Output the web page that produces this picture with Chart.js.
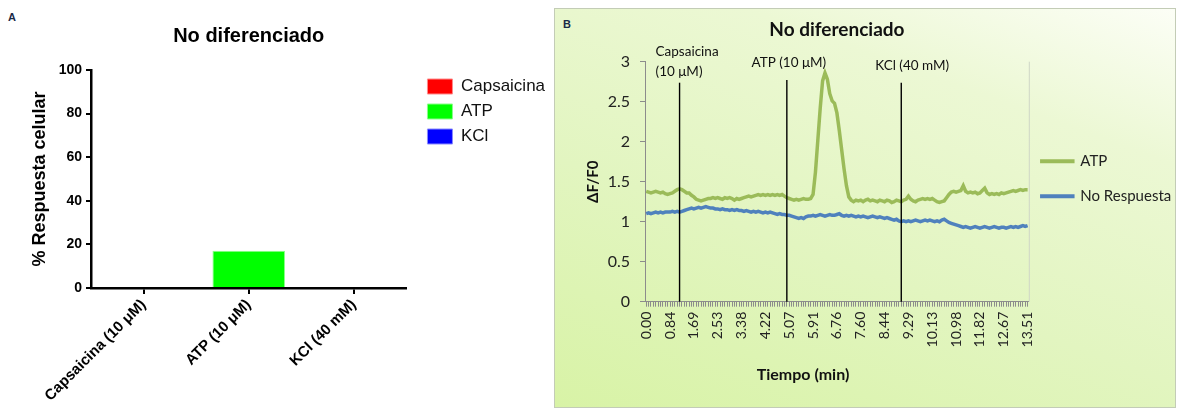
<!DOCTYPE html>
<html>
<head>
<meta charset="utf-8">
<script src="https://cdn.jsdelivr.net/npm/chart.js@4.4.1/dist/chart.umd.min.js"></script>
<style>
body{margin:0;background:#fff;width:1182px;height:410px;overflow:hidden;position:relative}
#panelA{position:absolute;left:0;top:0}
#cajaB{position:absolute;left:554px;top:8px;width:622px;height:400px;box-sizing:border-box;border:1px solid #c3ccb6;
  background:linear-gradient(200deg,#fcfef6 0%,#ecf8d4 25%,#e2f5c0 60%,#d8f3a6 100%)}
#panelB{position:absolute;left:0;top:0}
.tag{position:absolute;font:bold 11px "Liberation Sans",Arial,sans-serif;color:#1b2a47}
</style>
</head>
<body>
<div class="tag" style="left:8px;top:11px">A</div>
<canvas id="panelA" width="552" height="410"></canvas>
<div id="cajaB">
  <div class="tag" style="left:8px;top:9px">B</div>
  <canvas id="panelB" width="640" height="398"></canvas>
</div>
<script>
// ---- panel A: % respuesta celular
var categorias = ['Capsaicina (10 μM)', 'ATP (10 μM)', 'KCl (40 mM)'];
var estimulos = ['Capsaicina', 'ATP', 'KCl'];
var respuesta = [0, 17.1, 0];
var coloresA = ['#ff0000', '#00ff00', '#0000ff'];
var bordesA = ['#ff8a8a', '#8aff8a', '#8a8aff'];

// ---- panel B: trazo de calcio (ΔF/F0), una muestra cada ~0.084 min
var etiquetasTiempo = ['0.00','0.84','1.69','2.53','3.38','4.22','5.07','5.91','6.76','7.60',
  '8.44','9.29','10.13','10.98','11.82','12.67','13.51'];
var atp = [
  1.38,1.37,1.36,1.37,1.38,1.37,1.36,1.37,1.35,1.34,
  1.35,1.36,1.38,1.40,1.41,1.40,1.38,1.36,1.36,1.33,
  1.31,1.28,1.27,1.26,1.27,1.28,1.29,1.29,1.30,1.29,
  1.30,1.29,1.28,1.30,1.29,1.30,1.29,1.27,1.29,1.28,
  1.29,1.30,1.31,1.32,1.31,1.32,1.33,1.34,1.33,1.34,
  1.33,1.34,1.33,1.34,1.33,1.34,1.33,1.34,1.32,1.30,
  1.29,1.28,1.27,1.28,1.27,1.28,1.29,1.28,1.28,1.29,
  1.34,1.62,2.02,2.42,2.76,2.86,2.78,2.60,2.51,2.48,
  2.36,2.14,1.90,1.66,1.45,1.31,1.27,1.25,1.27,1.26,
  1.27,1.25,1.27,1.28,1.26,1.27,1.26,1.25,1.27,1.26,
  1.25,1.27,1.26,1.24,1.25,1.27,1.26,1.25,1.27,1.28,
  1.32,1.28,1.26,1.25,1.27,1.28,1.29,1.28,1.29,1.28,
  1.29,1.27,1.25,1.24,1.25,1.26,1.30,1.34,1.37,1.38,
  1.37,1.38,1.39,1.45,1.38,1.36,1.37,1.36,1.37,1.35,
  1.36,1.39,1.42,1.36,1.34,1.35,1.34,1.35,1.34,1.36,
  1.35,1.36,1.37,1.38,1.39,1.38,1.39,1.40,1.39,1.40,
  1.40];
var noRespuesta = [
  1.10,1.11,1.10,1.11,1.12,1.11,1.12,1.11,1.12,1.12,
  1.12,1.13,1.12,1.13,1.12,1.13,1.14,1.15,1.16,1.17,
  1.16,1.17,1.18,1.17,1.18,1.19,1.18,1.17,1.17,1.16,
  1.16,1.15,1.16,1.15,1.15,1.14,1.15,1.14,1.15,1.14,
  1.14,1.13,1.14,1.13,1.12,1.13,1.12,1.13,1.12,1.11,
  1.12,1.11,1.12,1.11,1.10,1.09,1.10,1.09,1.09,1.08,
  1.08,1.07,1.06,1.05,1.04,1.05,1.04,1.06,1.07,1.07,
  1.08,1.07,1.08,1.09,1.08,1.07,1.08,1.09,1.08,1.08,
  1.09,1.10,1.08,1.07,1.08,1.07,1.08,1.07,1.06,1.07,
  1.06,1.07,1.06,1.05,1.06,1.07,1.06,1.05,1.06,1.05,
  1.04,1.05,1.04,1.03,1.02,1.03,1.01,1.00,1.01,1.00,
  1.01,1.00,1.01,1.02,1.01,1.00,1.01,1.02,1.01,1.02,
  1.01,1.00,1.01,1.00,1.02,1.03,1.01,0.99,0.98,0.97,
  0.96,0.95,0.94,0.93,0.94,0.93,0.92,0.93,0.94,0.93,
  0.92,0.93,0.94,0.93,0.92,0.93,0.94,0.93,0.92,0.93,
  0.93,0.92,0.93,0.94,0.93,0.94,0.93,0.94,0.95,0.94,
  0.95];
// muestra en la que se aplicó cada estímulo
var marcadores = [14, 59, 107];
var marcadorTextos = [['Capsaicina', '(10 μM)'], ['ATP (10 μM)'], ['KCl (40 mM)']];

var muestras = [];
for (var i = 0; i < atp.length; i++) muestras.push(i);

// ancho aproximado que Chart.js le da a una leyenda vertical
function anchoLeyenda(textos, familia, tam, boxWidth, padding) {
  var c = document.createElement('canvas').getContext('2d');
  c.font = tam + 'px ' + familia;
  var m = 0;
  for (var i = 0; i < textos.length; i++) m = Math.max(m, c.measureText(textos[i]).width);
  return padding + boxWidth + tam / 2 + m + 10;
}

// mueve la leyenda sin cambiar el area del grafico (sin recortar su texto)
function moverLeyenda(dx, dy) {
  return {
    id: 'moverLeyenda',
    afterLayout: function(chart) {
      chart.legend.left += dx; chart.legend.right += Math.max(dx, 0) + 20;
      chart.legend.top += dy; chart.legend.bottom += dy;
    }
  };
}

// ================= A =================
var fA = '"Liberation Sans", Arial, sans-serif';
var setsA = [];
for (var k = 0; k < estimulos.length; k++) {
  var d = [];
  for (var j = 0; j < categorias.length; j++) d.push(j === k ? respuesta[j] : null);
  setsA.push({ label: estimulos[k], data: d, backgroundColor: coloresA[k], borderColor: bordesA[k], borderWidth: 1 });
}
var derechaA = 552 - 405 - anchoLeyenda(estimulos, fA, 17, 25, 8) + 7;

new Chart(document.getElementById('panelA'), {
  type: 'bar',
  data: { labels: categorias, datasets: setsA },
  options: {
    responsive: false, animation: false, events: [],
    skipNull: true,
    datasets: { bar: { categoryPercentage: 1, barPercentage: 0.69 } },
    layout: { padding: { left: 25, top: 0, right: derechaA, bottom: 0 } },
    plugins: {
      title: { display: true, fullSize: false, text: 'No diferenciado', color: '#000',
        font: { family: fA, size: 20, weight: 'bold' }, padding: { top: 24, bottom: 22 } },
      legend: { position: 'right', fullSize: false, align: 'start',
        labels: { boxWidth: 25, boxHeight: 15, padding: 8, color: '#111', font: { family: fA, size: 17 } } },
      tooltip: { enabled: false }
    },
    scales: {
      x: {
        afterFit: function(s) { s.height = 122; },
        border: { color: '#000', width: 2.5 },
        grid: { offset: false, drawOnChartArea: false, color: '#000', lineWidth: 2, tickLength: 6 },
        ticks: { color: '#000', minRotation: 45, maxRotation: 45, padding: 2, font: { family: fA, size: 15, weight: 'bold' } }
      },
      y: {
        min: 0, max: 100,
        afterFit: function(s) { s.width = 66; },
        border: { color: '#000', width: 2.5 },
        grid: { drawOnChartArea: false, color: '#000', lineWidth: 2, tickLength: 5 },
        ticks: { stepSize: 20, color: '#000', padding: 4, font: { family: fA, size: 14, weight: 'bold' } },
        title: { display: true, text: '% Respuesta celular', color: '#000', padding: { top: 4, bottom: 4 },
          font: { family: fA, size: 18, weight: 'bold' } }
      }
    }
  },
  plugins: [moverLeyenda(13, 0)]
});

// ================= B =================
var fB = 'Lato, "Open Sans", sans-serif';
var estiloMarcas = [
  { lineaTop: 21, textoX: -24, alinear: 'left', textoY: [-9.7, 10.3] },
  { lineaTop: 18.3, textoX: 2, alinear: 'center', textoY: [1.3] },
  { lineaTop: 21, textoX: 11, alinear: 'center', textoY: [4.3] }
];

var anotaciones = {
  id: 'anotaciones',
  afterDatasetsDraw: function(chart) {
    var ctx = chart.ctx, area = chart.chartArea, xs = chart.scales.x;
    ctx.save();
    // borde derecho del area de trazado
    ctx.strokeStyle = '#cfd6c6'; ctx.lineWidth = 1;
    ctx.beginPath(); ctx.moveTo(area.right + 0.5, area.top); ctx.lineTo(area.right + 0.5, area.bottom); ctx.stroke();
    // lineas de estimulo
    ctx.strokeStyle = '#000'; ctx.lineWidth = 1.4;
    ctx.fillStyle = '#111'; ctx.font = '13.5px ' + fB; ctx.textBaseline = 'middle';
    for (var m = 0; m < marcadores.length; m++) {
      var px = xs.getPixelForValue(marcadores[m]);
      var st = estiloMarcas[m];
      ctx.beginPath(); ctx.moveTo(px, area.top + st.lineaTop); ctx.lineTo(px, area.bottom); ctx.stroke();
      ctx.textAlign = st.alinear;
      for (var t = 0; t < marcadorTextos[m].length; t++) {
        ctx.fillText(marcadorTextos[m][t], px + st.textoX, area.top + st.textoY[t]);
      }
    }
    // titulo del eje x
    ctx.font = 'bold 16px ' + fB; ctx.textAlign = 'center'; ctx.fillStyle = '#111';
    ctx.fillText('Tiempo (min)', area.left + 158, area.bottom + 73);
    ctx.restore();
  }
};

var derechaB = 640 - 473 - anchoLeyenda(['ATP', 'No Respuesta'], fB, 15, 31, 20) + 9;

new Chart(document.getElementById('panelB'), {
  type: 'line',
  data: {
    labels: muestras,
    datasets: [
      { label: 'ATP', data: atp, borderColor: '#9bbb59', backgroundColor: '#9bbb59', borderWidth: 3.5, pointRadius: 0, tension: 0 },
      { label: 'No Respuesta', data: noRespuesta, borderColor: '#4f81bd', backgroundColor: '#4f81bd', borderWidth: 3.5, pointRadius: 0, tension: 0 }
    ]
  },
  options: {
    responsive: false, animation: false, events: [],
    layout: { padding: { left: 25, top: 0, right: derechaB, bottom: 0 } },
    plugins: {
      title: { display: true, fullSize: false, text: 'No diferenciado', color: '#111',
        font: { family: fB, size: 19, weight: 'bold' }, padding: { top: 9.6, bottom: 20.3 } },
      legend: { position: 'right', fullSize: false, align: 'center',
        labels: { boxWidth: 31, boxHeight: 0.5, padding: 20, color: '#222', font: { family: fB, size: 15 } } },
      tooltip: { enabled: false }
    },
    scales: {
      x: {
        offset: true,
        afterFit: function(s) { s.height = 105.3; },
        border: { color: '#8c8c8c', width: 1 },
        grid: { offset: false, drawOnChartArea: false, color: '#8c8c8c', lineWidth: 1, tickLength: 5 },
        ticks: {
          autoSkip: false, minRotation: 90, maxRotation: 90, padding: 5, color: '#222',
          font: { family: fB, size: 14 },
          callback: function(v, idx) { return idx % 10 === 0 ? etiquetasTiempo[idx / 10] : ''; }
        }
      },
      y: {
        min: 0, max: 3,
        afterFit: function(s) { s.width = 65; },
        border: { color: '#8c8c8c', width: 1 },
        grid: { drawOnChartArea: false, color: '#8c8c8c', lineWidth: 1, tickLength: 5 },
        ticks: { stepSize: 0.5, color: '#222', padding: 10, font: { family: fB, size: 16 },
          callback: function(v) { return String(Math.round(v * 10) / 10); } },
        title: { display: true, text: 'ΔF/F0', color: '#111', padding: { top: 4, bottom: 4 },
          font: { family: fB, size: 15, weight: 'bold' } }
      }
    }
  },
  plugins: [anotaciones, moverLeyenda(-7, -3)]
});
</script>
</body>
</html>
